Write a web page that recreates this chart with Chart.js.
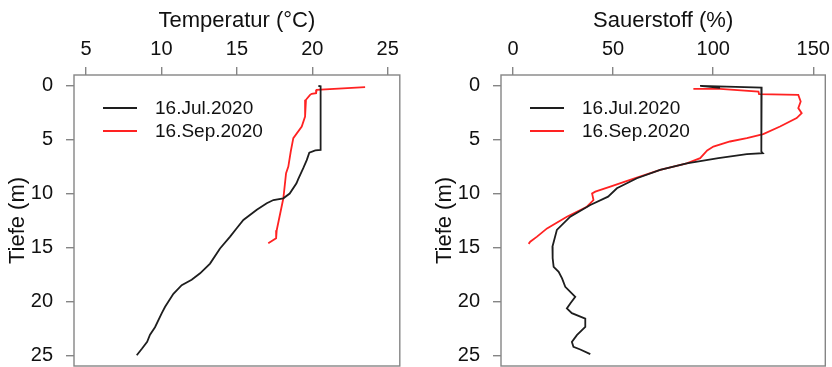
<!DOCTYPE html>
<html>
<head>
<meta charset="utf-8">
<title>Tiefenprofile</title>
<script src="https://cdn.jsdelivr.net/npm/chart.js@4.4.1/dist/chart.umd.min.js"></script>
<style>
  html, body { margin: 0; padding: 0; background: #fff; }
  .panel { position: absolute; top: 0; width: 416px; height: 367px; }
  #left { left: 0; }
  #right { left: 416px; }
</style>
</head>
<body>
<div class="panel" id="left"><canvas id="tempChart" width="416" height="367"></canvas></div>
<div class="panel" id="right"><canvas id="oxyChart" width="416" height="367"></canvas></div>
<script>
// tick labels
const depthTicks = [0, 5, 10, 15, 20, 25]
const tempTicks = [5, 10, 15, 20, 25]
const oxyTicks = [0, 50, 100, 150]

const seriesLabels = ['16.Jul.2020', '16.Sep.2020']

// Temperatur, 16.Jul.2020
const julTempDepth = [0, 0.05, 5.95, 6.0, 6.2, 6.9, 7.65, 8.7, 9.05, 10.0, 10.44, 10.6, 10.9, 11.5, 12.45, 13.2, 14.0, 15.1, 16.5, 17.4, 18.0, 18.5, 19.3, 20.5, 21.1, 22.4, 23.1, 23.75, 24.4, 25.0]
const julTemp = [20.4, 20.55, 20.55, 20.2, 19.8, 19.63, 19.4, 19.05, 18.95, 18.5, 18.08, 17.42, 16.98, 16.32, 15.43, 15.0, 14.55, 13.88, 13.22, 12.56, 12.0, 11.34, 10.79, 10.24, 10.02, 9.57, 9.24, 9.05, 8.7, 8.36]

// Temperatur, 16.Sep.2020
const sepTempDepth = [0.12, 0.37, 0.68, 0.74, 0.84, 1.3, 2.85, 3.78, 4.86, 6.1, 7.5, 8.1, 10.44, 13.4, 14.15, 14.62]
const sepTemp = [23.5, 20.29, 20.25, 19.96, 19.85, 19.58, 19.52, 19.3, 18.74, 18.57, 18.41, 18.26, 18.08, 17.64, 17.6, 17.08]

// Sauerstoff, 16.Jul.2020
const julOxyDepth = [0.2, 0.0, 0.16, 2.07, 3.93, 5.17, 6.1, 6.26, 6.35, 6.72, 7.19, 7.8, 8.58, 9.51, 10.29, 11.06, 12.15, 13.38, 14.93, 16.0, 16.8, 17.26, 17.87, 18.65, 19.58, 20.2, 20.66, 21.1, 21.6, 22.37, 23.14, 23.76, 24.23, 24.47, 24.9]
const julOxy = [103.4, 93.5, 124.2, 124.2, 123.9, 124.2, 123.9, 124.8, 116.8, 102.6, 86.8, 73.5, 61.9, 51.9, 47.5, 38.6, 28.6, 21.9, 19.7, 19.8, 20.3, 22.8, 24.5, 26.1, 31.1, 28.6, 26.9, 29.4, 36.1, 36.1, 31.9, 29.4, 30.2, 33.6, 38.6]

// Sauerstoff, 16.Sep.2020
const sepOxyDepth = [0.28, 0.28, 0.53, 0.77, 0.84, 1.46, 2.07, 2.54, 3.0, 3.78, 4.49, 4.86, 5.17, 5.64, 6.0, 6.72, 7.19, 7.8, 8.74, 9.36, 9.82, 10.0, 10.6, 11.22, 12.15, 13.23, 14.0, 14.47, 14.67]
const sepOxy = [90.1, 103.4, 122.6, 122.9, 142.5, 143.7, 142.5, 144.2, 141.7, 133.4, 125, 116.8, 108.4, 100.1, 97, 93.5, 86.8, 73.5, 58.5, 48.6, 41.1, 39.5, 40.2, 36.9, 26.9, 17, 12, 8.6, 7.8]

const lineColors = ['#1e1e1e', '#ff2222']
const boxColor = '#858585'
const textColor = '#111'

Chart.defaults.font.family = "'Liberation Sans', Arial, sans-serif"
Chart.defaults.animation = false

function toPoints (xs, ys) {
  return xs.map((x, i) => ({ x: x, y: ys[i] }))
}

// box around plot + legend in the top left corner
const boxLegend = {
  id: 'boxLegend',
  afterDraw (chart) {
    const { ctx, chartArea: a } = chart
    ctx.save()
    ctx.strokeStyle = boxColor
    ctx.lineWidth = 1.4
    ctx.strokeRect(a.left, a.top, a.right - a.left, a.bottom - a.top)

    ctx.font = "19px 'Liberation Sans', Arial, sans-serif"
    ctx.textBaseline = 'middle'
    ctx.fillStyle = textColor
    chart.data.datasets.forEach((ds, i) => {
      const y = a.top + 33 + i * 23
      ctx.strokeStyle = ds.borderColor
      ctx.lineWidth = 1.8
      ctx.beginPath()
      ctx.moveTo(a.left + 29, y)
      ctx.lineTo(a.left + 63, y)
      ctx.stroke()
      ctx.fillText(ds.label, a.left + 81, y + 1)
    })
    ctx.restore()
  }
}

function makePanel (canvasId, cfg) {
  const ctx = document.getElementById(canvasId).getContext('2d')
  return new Chart(ctx, {
    type: 'scatter',
    data: {
      datasets: cfg.series.map((s, i) => ({
        label: seriesLabels[i],
        data: s,
        showLine: true,
        borderColor: lineColors[i],
        borderWidth: 1.8,
        pointRadius: 0,
        tension: 0
      }))
    },
    options: {
      responsive: false,
      devicePixelRatio: 1,
      layout: { padding: { left: 0, top: 0, right: cfg.padRight, bottom: 1 } },
      plugins: { legend: { display: false }, tooltip: { enabled: false } },
      scales: {
        x: {
          type: 'linear',
          position: 'top',
          min: cfg.xMin,
          max: cfg.xMax,
          afterBuildTicks: s => { s.ticks = cfg.xTicks.map(v => ({ value: v })) },
          afterFit: s => {
            s.height = 75
            s.paddingLeft = 0
            s.paddingRight = 0
          },
          grid: { drawOnChartArea: false, drawTicks: true, tickLength: 8, color: boxColor, lineWidth: 1.4 },
          border: { display: false },
          ticks: { color: textColor, font: { size: 20 }, padding: 6, maxRotation: 0 },
          title: { display: true, text: cfg.xTitle, color: textColor, font: { size: 22 }, padding: { top: 8, bottom: 0 } }
        },
        y: {
          type: 'linear',
          reverse: true,
          min: -1,
          max: 26,
          afterBuildTicks: s => { s.ticks = depthTicks.map(v => ({ value: v })) },
          afterFit: s => {
            s.width = cfg.yWidth
            s.paddingTop = 0
            s.paddingBottom = 0
          },
          grid: { drawOnChartArea: false, drawTicks: true, tickLength: 8, color: boxColor, lineWidth: 1.4 },
          border: { display: false },
          ticks: { color: textColor, font: { size: 20 }, padding: 13 },
          title: { display: true, text: 'Tiefe (m)', color: textColor, font: { size: 22 }, padding: { top: cfg.yTitlePad, bottom: 0 } }
        }
      }
    },
    plugins: [boxLegend]
  })
}

makePanel('tempChart', {
  series: [toPoints(julTemp, julTempDepth), toPoints(sepTemp, sepTempDepth)],
  xMin: 4.2,
  xMax: 25.8,
  xTicks: tempTicks,
  xTitle: 'Temperatur (°C)',
  yWidth: 74,
  yTitlePad: 5,
  padRight: 16.2
})

makePanel('oxyChart', {
  series: [toPoints(julOxy, julOxyDepth), toPoints(sepOxy, sepOxyDepth)],
  xMin: -6,
  xMax: 156,
  xTicks: oxyTicks,
  xTitle: 'Sauerstoff (%)',
  yWidth: 85,
  yTitlePad: 16,
  padRight: 6.7
})
</script>
</body>
</html>
